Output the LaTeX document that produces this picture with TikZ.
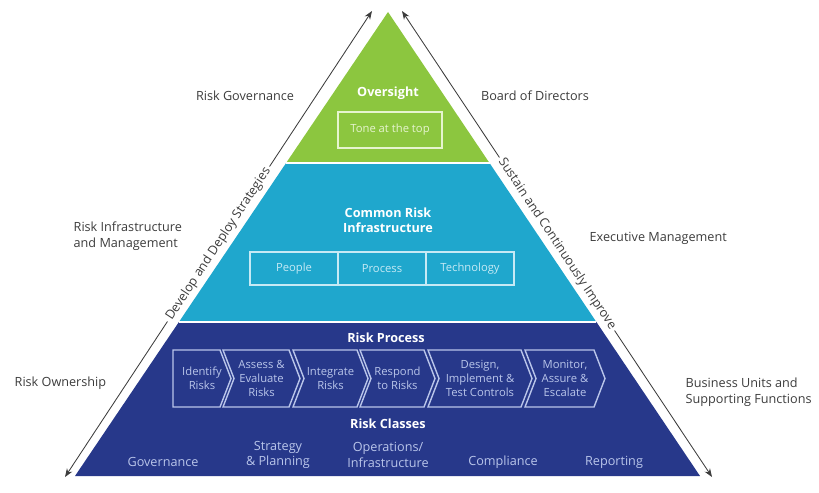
\documentclass[tikz,border=0pt]{standalone}
\usepackage{fontspec}
\setmainfont{Open Sans}
\usetikzlibrary{arrows.meta, positioning}
\definecolor{oversightgreen}{HTML}{8CC63F}
\definecolor{infracyan}{HTML}{1FA7CD}
\definecolor{processblue}{HTML}{27388A}
\definecolor{labelgray}{HTML}{3C3C3C}
\definecolor{palegreen}{HTML}{E6F4CF}
\definecolor{palecyan}{HTML}{C6EAF5}
\definecolor{paleblue}{HTML}{B9C5EA}

\begin{document}
\begin{tikzpicture}[x=0.025cm, y=-0.025cm,
  sidelabel/.style={font=\fontsize{9}{11}\selectfont, text=labelgray, align=left, inner sep=1pt},
  heading/.style={font=\fontsize{9}{11}\selectfont\bfseries, text=white, align=center},
  tonebox/.style={draw=palegreen, line width=1pt, minimum width=2.6cm, minimum height=0.9cm, text=palegreen, font=\fontsize{8}{10}\selectfont},
  pptbox/.style={draw=palecyan, line width=1pt, minimum width=2.2cm, minimum height=0.82cm, outer sep=0pt, text=palecyan, font=\fontsize{8}{10}\selectfont},
  chevron/.style={draw=paleblue, line width=1pt},
  steptext/.style={text=paleblue, font=\fontsize{8}{10}\selectfont, align=center},
  classtext/.style={text=paleblue, font=\fontsize{9}{11}\selectfont, align=center},
  arrow/.style={{Stealth[length=6pt,width=4.5pt]}-{Stealth[length=6pt,width=4.5pt]}, line width=0.6pt, labelgray},
  arrowlabel/.style={sloped, fill=white, inner sep=2pt, font=\fontsize{9}{11}\selectfont, text=labelgray}
]
\useasboundingbox (0,0) rectangle (819,492);

% pyramid layers
\fill[oversightgreen] (388,12) -- (489.5,163) -- (286.1,163) -- cycle;
\fill[infracyan] (286.1,163) -- (489.5,163) -- (596.4,322) -- (178.9,322) -- cycle;
\fill[processblue] (178.9,322) -- (596.4,322) -- (700,476) -- (75,476) -- cycle;
\draw[white, line width=1pt] (286.1,163) -- (489.5,163) (178.9,322) -- (596.4,322);

% oversight
\node[heading] (oversight) at (388,93) {Oversight};
\node[tonebox] (tone) at (390,130) {Tone at the top};

% common risk infrastructure
\node[heading] (infra) at (388,220) {Common Risk\\Infrastructure};
\node[pptbox] (people) at (294,268.5) {People};
\node[pptbox, right=0pt of people] (process) {Process};
\node[pptbox, right=0pt of process] (technology) {Technology};

% risk process
\node[heading] (riskproc) at (386,338) {Risk Process};
\foreach \a/\b/\n/\name/\txt in {173/220/0/identify/{Identify\\Risks},
    223/289/11/assess/{Assess \&\\Evaluate\\Risks},
    293/357/11/integrate/{Integrate\\Risks},
    360/424/11/respond/{Respond\\to Risks},
    428/521/11/design/{Design,\\Implement \&\\Test Controls},
    525/594/11/monitor/{Monitor,\\Assure \&\\Escalate}}{
  \draw[chevron] (\a,350) -- (\b,350) -- (\b+11,378.5) -- (\b,407) -- (\a,407) -- (\a+\n,378.5) -- cycle;
  \node[steptext] (\name) at ({(\a+\b)/2+5.5},378.5) {\txt};
}

% risk classes
\node[heading] (riskclass) at (388,424) {Risk Classes};
\node[classtext] (governance) at (163,462) {Governance};
\node[classtext] (strategy) at (278,455) {Strategy\\\& Planning};
\node[classtext] (operations) at (388,455) {Operations/\\Infrastructure};
\node[classtext] (compliance) at (503,462) {Compliance};
\node[classtext] (reporting) at (614,462) {Reporting};

% side arrows
\coordinate (lefttop) at (372,11);
\coordinate (leftbottom) at (65,477);
\coordinate (righttop) at (402,11);
\coordinate (rightbottom) at (712,477);
\draw[arrow] (leftbottom) -- (lefttop) node[arrowlabel, midway] {Develop and Deploy Strategies};
\draw[arrow] (righttop) -- (rightbottom) node[arrowlabel, midway] {Sustain and Continuously Improve};

% side labels
\node[sidelabel] (riskgov) at (245,96) {Risk Governance};
\node[sidelabel] (board) at (535,96) {Board of Directors};
\node[sidelabel, anchor=west] (riskinfra) at (72,236) {Risk Infrastructure\\and Management};
\node[sidelabel, anchor=west] (execmgmt) at (588,238) {Executive Management};
\node[sidelabel, anchor=west] (riskown) at (13,383) {Risk Ownership};
\node[sidelabel, anchor=west] (bizunits) at (684,392) {Business Units and\\Supporting Functions};
\end{tikzpicture}
\end{document}
